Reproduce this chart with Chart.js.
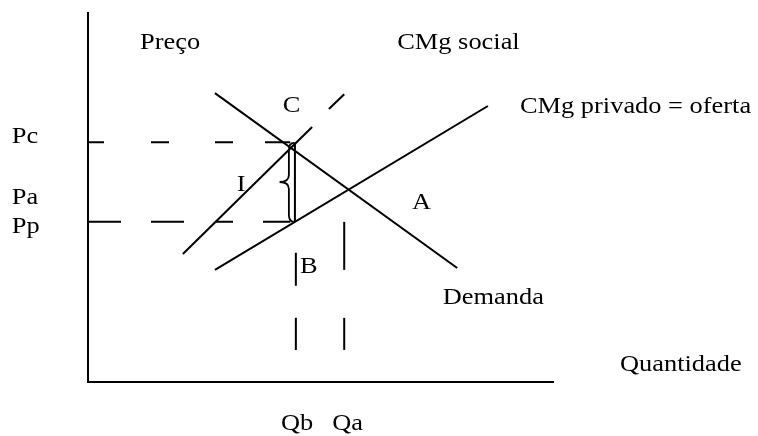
<!DOCTYPE html>
<html>
<head>
<meta charset="utf-8">
<script src="https://cdn.jsdelivr.net/npm/chart.js@4/dist/chart.umd.min.js"></script>
<style>
html,body{margin:0;padding:0;background:#fff;}
#wrap{width:758px;height:436px;position:relative;}
</style>
</head>
<body>
<div id="wrap"><canvas id="c"></canvas></div>
<script>
// ---- data (axis units 0..100) ----
const demanda      = [[27.3, 78.3], [79.4, 30.9]];
const cmgPrivado   = [[27.3, 30.4], [86.0, 74.8]];
const cmgSocial    = [[20.4, 34.7], [48.2, 69.1]];
const cmgSocialExt = [[51.8, 74.0], [55.1, 78.0]];
const precos       = [65.0, 43.4];          // Pc, Pp dashed levels
const precoLineX   = [0, 43.5];             // extent of price dashes
const gapLine      = [[44.5, 65.0], [44.5, 43.4]];
const qbLine       = [[44.7, 35.0], [44.7, 8.7]];
const qaLine       = [[55.1, 43.4], [55.1, 8.7]];
const braceX       = [44.3, 43.2, 41.2];    // right end, stem, tip
const braceY       = [64.8, 54.2, 43.4];    // top, middle, bottom
const labelText = ['Preço','CMg social','C','CMg privado = oferta','Pc','Pa','Pp','I','A','B','Demanda','Quantidade','Qb','Qa'];
const labelX    = [11.2, 66.5, 41.9, 92.9, -16.4, -16.4, -16.4, 32.0, 69.7, 45.6, 76.3, 114.4, 41.5, 52.5];
const labelY    = [90.2, 90.2, 73.2, 72.9, 64.8, 48.2, 40.4, 51.8, 46.9, 29.5, 21.1, 3.0, -13.0, -13.0];

const pts = a => a.map(p => ({x: p[0], y: p[1]}));
const base = {showLine: true, borderColor: '#000', borderWidth: 2, pointRadius: 0, fill: false, clip: false};

const datasets = [
  Object.assign({}, base, {data: pts(demanda)}),
  Object.assign({}, base, {data: pts(cmgPrivado)}),
  Object.assign({}, base, {data: pts(cmgSocial)}),
  Object.assign({}, base, {data: pts(cmgSocialExt)}),
  Object.assign({}, base, {data: precoLineX.map(x => ({x, y: precos[0]})), borderDash: [16,47,18,46,18,32,40]}),
  Object.assign({}, base, {data: precoLineX.map(x => ({x, y: precos[1]})), borderDash: [33,30,33,31,18,30,40]}),
  Object.assign({}, base, {data: pts(gapLine)}),
  Object.assign({}, base, {data: pts(qbLine), borderDash: [33,32]}),
  Object.assign({}, base, {data: pts(qaLine), borderDash: [48,48]})
];

const extras = {
  id: 'extras',
  afterDatasetsDraw(chart) {
    const ctx = chart.ctx, xs = chart.scales.x, ys = chart.scales.y;
    // brace
    const r = xs.getPixelForValue(braceX[0]), s = xs.getPixelForValue(braceX[1]), t = xs.getPixelForValue(braceX[2]);
    const top = ys.getPixelForValue(braceY[0]), mid = ys.getPixelForValue(braceY[1]), bot = ys.getPixelForValue(braceY[2]);
    const k = 7;
    ctx.save();
    ctx.strokeStyle = '#000'; ctx.lineWidth = 1.8;
    ctx.beginPath();
    ctx.moveTo(r, top);
    ctx.quadraticCurveTo(s, top, s, top + k);
    ctx.lineTo(s, mid - k);
    ctx.quadraticCurveTo(s, mid, t, mid);
    ctx.quadraticCurveTo(s, mid, s, mid + k);
    ctx.lineTo(s, bot - k);
    ctx.quadraticCurveTo(s, bot, r, bot);
    ctx.stroke();
    ctx.restore();
    // labels
    ctx.save();
    ctx.fillStyle = '#000';
    ctx.font = '24px "Liberation Serif", "Times New Roman", serif';
    ctx.textAlign = 'left'; ctx.textBaseline = 'alphabetic';
    labelText.forEach((txt, i) => {
      ctx.save();
      ctx.translate(xs.getPixelForValue(labelX[i]), ys.getPixelForValue(labelY[i]));
      ctx.scale(1.1, 1);
      ctx.fillText(txt, 0, 0);
      ctx.restore();
    });
    ctx.restore();
  }
};

new Chart(document.getElementById('c'), {
  type: 'scatter',
  data: {datasets},
  options: {
    responsive: true, maintainAspectRatio: false, animation: false,
    layout: {padding: {left: 88, top: 13, right: 205, bottom: 54}},
    plugins: {legend: {display: false}, tooltip: {enabled: false}},
    scales: {
      x: {type: 'linear', min: 0, max: 100, grid: {display: false, drawTicks: false}, ticks: {display: false}, border: {display: true, color: '#000', width: 2}},
      y: {type: 'linear', min: 0, max: 100, grid: {display: false, drawTicks: false}, ticks: {display: false}, border: {display: true, color: '#000', width: 2}}
    }
  },
  plugins: [extras]
});
</script>
</body>
</html>
